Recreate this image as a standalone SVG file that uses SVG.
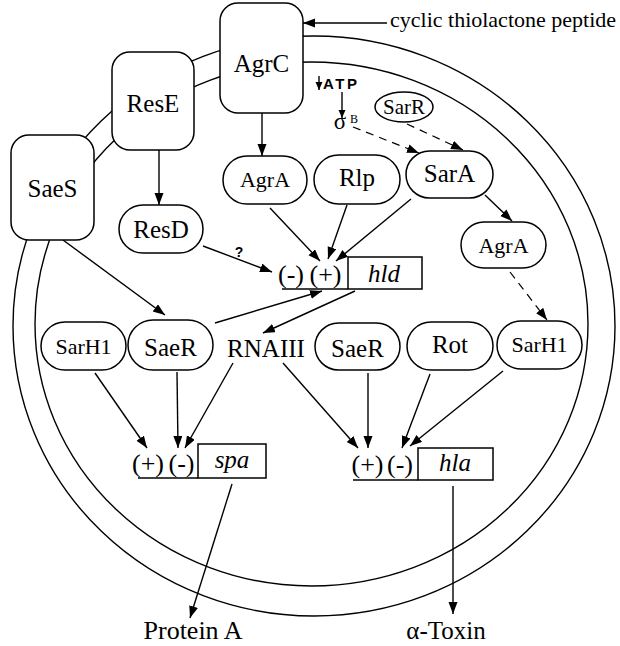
<svg xmlns="http://www.w3.org/2000/svg" width="620" height="646" viewBox="0 0 620 646">
<style>
.ln{stroke:#000;stroke-width:1.4;fill:none}
.ar{stroke:#000;stroke-width:1.4;fill:none;marker-end:url(#ah)}
.ds{stroke:#000;stroke-width:1.2;fill:none;stroke-dasharray:8 6;marker-end:url(#ah)}
.nd{fill:#fff;stroke:#000;stroke-width:1.5}
.t{font-family:"Liberation Serif",serif;font-size:25px;text-anchor:middle;fill:#000}
.s{font-size:22px}
.i{font-family:"Liberation Serif",serif;font-style:italic;font-size:25px;text-anchor:middle}
.p{font-family:"Liberation Serif",serif;font-size:26px;text-anchor:middle}
</style>
<defs>
<marker id="ah" markerUnits="userSpaceOnUse" markerWidth="13" markerHeight="10" refX="12" refY="4.5" orient="auto">
<path d="M0,0 L12,4.5 L0,9 z" fill="#000"/>
</marker>
<marker id="sh" markerUnits="userSpaceOnUse" markerWidth="9" markerHeight="8" refX="8" refY="3.5" orient="auto">
<path d="M0,0 L8,3.5 L0,7 z" fill="#000"/>
</marker>
</defs>
<rect width="620" height="646" fill="#fff"/>
<g id="membrane">
<ellipse cx="314" cy="326" rx="301" ry="290" class="ln"/>
<ellipse cx="311.5" cy="324" rx="276.5" ry="262" class="ln"/>
</g>
<g id="connectors">
<line x1="387" y1="23" x2="303" y2="23" class="ar"/>
<line x1="262" y1="113" x2="262" y2="156" class="ar"/>
<line x1="159" y1="150" x2="159" y2="205" class="ar"/>
<line x1="319" y1="76" x2="319" y2="90" class="ln" style="marker-end:url(#sh)"/>
<line x1="342" y1="92" x2="342" y2="118" class="ln" style="marker-end:url(#sh)"/>
<line x1="353" y1="127" x2="419" y2="153" class="ds"/>
<line x1="407" y1="124" x2="463" y2="150" class="ds"/>
<line x1="485" y1="195" x2="512" y2="221" class="ar"/>
<line x1="510" y1="272" x2="547" y2="320" class="ds"/>
<line x1="270" y1="208" x2="320" y2="261" class="ar"/>
<line x1="347" y1="205" x2="328" y2="259" class="ar"/>
<line x1="411" y1="199" x2="336" y2="261" class="ar"/>
<line x1="203" y1="246" x2="272" y2="272" class="ar"/>
<line x1="63" y1="240" x2="165" y2="315" class="ar"/>
<line x1="215" y1="323" x2="322" y2="291" class="ar"/>
<line x1="355" y1="291" x2="263" y2="333" class="ar"/>
<line x1="95" y1="373" x2="147" y2="448" class="ar"/>
<line x1="177" y1="372" x2="178" y2="448" class="ar"/>
<line x1="233" y1="363" x2="185" y2="448" class="ar"/>
<line x1="283" y1="363" x2="358" y2="448" class="ar"/>
<line x1="368" y1="373" x2="368" y2="448" class="ar"/>
<line x1="430" y1="374" x2="402" y2="448" class="ar"/>
<line x1="503" y1="371" x2="410" y2="446" class="ar"/>
<line x1="232" y1="484" x2="190" y2="618" class="ar"/>
<line x1="453" y1="486" x2="453" y2="614" class="ar"/>
<line x1="282" y1="289" x2="348" y2="289" class="ln"/>
<line x1="138" y1="478" x2="198" y2="478" class="ln"/>
<line x1="353" y1="480" x2="418" y2="480" class="ln"/>
<text x="239" y="257" font-family="Liberation Sans, sans-serif" font-weight="bold" font-size="14" text-anchor="middle">?</text>
</g>
<g id="AgrC"><rect x="220" y="3" width="83" height="110" rx="18" class="nd"/><text x="261.5" y="72" class="t">AgrC</text></g>
<g id="ResE"><rect x="112" y="52" width="82" height="98" rx="18" class="nd"/><text x="153" y="112" class="t">ResE</text></g>
<g id="SaeS"><rect x="11" y="135" width="83" height="105" rx="18" class="nd"/><text x="52.5" y="197" class="t">SaeS</text></g>
<g id="AgrA1"><rect x="223" y="156" width="84" height="48" rx="24" class="nd"/><text x="265" y="187" class="t s">AgrA</text></g>
<g id="Rlp"><rect x="314" y="155" width="86" height="49" rx="24.5" class="nd"/><text x="357" y="186" class="t">Rlp</text></g>
<g id="SarA"><rect x="406" y="151" width="87" height="47" rx="23.5" class="nd"/><text x="449.5" y="182" class="t">SarA</text></g>
<g id="SarR"><ellipse cx="404" cy="107" rx="29" ry="15" class="nd"/><text x="404" y="114" class="t" style="font-size:21px">SarR</text></g>
<g id="AgrA2"><rect x="461" y="222" width="85" height="46" rx="23" class="nd"/><text x="503.5" y="253" class="t s">AgrA</text></g>
<g id="ResD"><rect x="119" y="205" width="84" height="48" rx="24" class="nd"/><text x="161" y="238" class="t">ResD</text></g>
<g id="SarH1a"><rect x="41" y="322" width="85" height="48" rx="24" class="nd"/><text x="83.5" y="354" class="t s">SarH1</text></g>
<g id="SaeR1"><rect x="128" y="320" width="85" height="50" rx="25" class="nd"/><text x="170.5" y="356" class="t">SaeR</text></g>
<g id="RNAIII"><text x="266" y="357" class="t">RNAIII</text></g>
<g id="SaeR2"><rect x="315" y="323" width="85" height="47" rx="23.5" class="nd"/><text x="357.5" y="357" class="t">SaeR</text></g>
<g id="Rot"><rect x="407" y="322" width="86" height="48" rx="24" class="nd"/><text x="450" y="353" class="t">Rot</text></g>
<g id="SarH1b"><rect x="497" y="321" width="85" height="48" rx="24" class="nd"/><text x="539.5" y="352" class="t s">SarH1</text></g>
<g id="hld"><rect x="348" y="257" width="74" height="32" class="nd"/><text x="384" y="282" class="i">hld</text><text x="291" y="283" class="p">(-)</text><text x="325.5" y="283" class="p">(+)</text></g>
<g id="spa"><rect x="198" y="444" width="68" height="34" class="nd"/><text x="232" y="468" class="i">spa</text><text x="148" y="472" class="p">(+)</text><text x="181.5" y="472" class="p">(-)</text></g>
<g id="hla"><rect x="418" y="448" width="75" height="32" class="nd"/><text x="455" y="471" class="i">hla</text><text x="367.5" y="473" class="p">(+)</text><text x="400" y="473" class="p">(-)</text></g>
<g id="ATP"><text x="323" y="89" font-family="Liberation Sans, sans-serif" font-weight="bold" font-size="15" letter-spacing="2.5">ATP</text></g>
<g id="sigmaB"><text x="340" y="129" class="t" style="font-size:23px">σ</text><text x="350" y="123" font-family="Liberation Serif, serif" font-size="12">B</text></g>
<g id="peptide"><text x="390" y="27" font-family="Liberation Serif, serif" font-size="22">cyclic thiolactone peptide</text></g>
<g id="ProteinA"><text x="193" y="639" class="t" style="font-size:26px">Protein A</text></g>
<g id="aToxin"><text x="446" y="639" class="t">α-Toxin</text></g>
</svg>
